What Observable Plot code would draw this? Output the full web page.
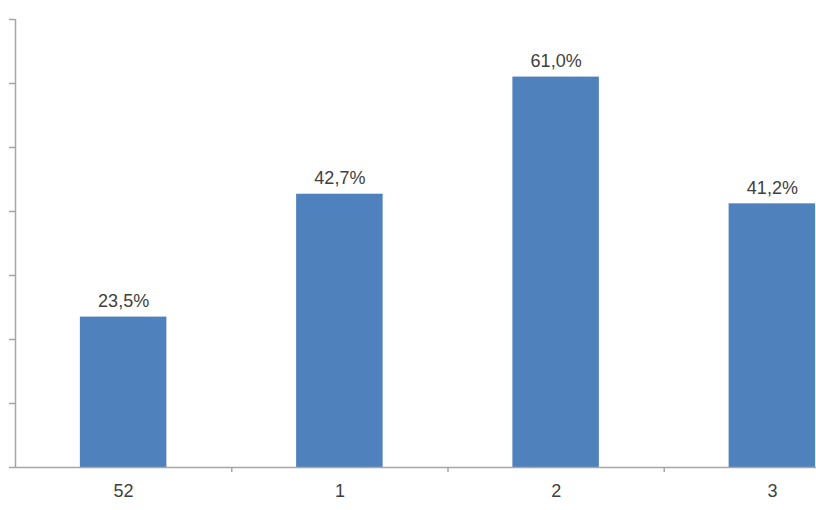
<!DOCTYPE html>
<html>
<head>
<meta charset="utf-8">
<script src="https://cdn.jsdelivr.net/npm/d3@7"></script>
<script src="https://cdn.jsdelivr.net/npm/@observablehq/plot@0.6"></script>
<style>
  html, body { margin: 0; padding: 0; background: #fff; overflow: hidden; }
  #chart svg { display: block; }
</style>
</head>
<body>
<div id="chart"></div>
<script>
const categories = ["52", "1", "2", "3"];
const values = [23.5, 42.7, 61.0, 41.2];
const yTicks = [0, 10, 20, 30, 40, 50, 60, 70];

const data = categories.map((c, i) => ({i, cat: c, value: values[i]}));
const separators = categories.slice(1).map((_, i) => i + 0.5);
const fmt = v => v.toFixed(1).replace(".", ",") + "%";

const axisColor = "#a6a6a6";
const textColor = "#404040";
const font = "Liberation Sans, Arial, sans-serif";

const chart = Plot.plot({
  width: 816,
  height: 510,
  marginLeft: 15,
  marginRight: 0,
  marginTop: 19,
  marginBottom: 43,
  style: {fontFamily: font, background: "#fff"},
  x: {type: "linear", domain: [-0.5, 3.5], range: [15, 880], label: null},
  y: {domain: [0, 70], range: [467, 19], label: null},
  marks: [
    Plot.rectY(data, {x1: d => d.i - 0.2, x2: d => d.i + 0.2, y: "value", fill: "#4F81BD"}),
    Plot.ruleX([-0.5], {y1: 0, y2: 70, stroke: axisColor, strokeWidth: 1.5}),
    Plot.ruleY([0], {x1: -0.5, x2: 3.5, stroke: axisColor, strokeWidth: 1.5}),
    Plot.axisY(yTicks, {anchor: "left", label: null, tickSize: 6, tickFormat: () => "", stroke: axisColor, strokeWidth: 1.5}),
    Plot.axisX(separators, {anchor: "bottom", label: null, tickSize: 5, tickFormat: () => "", stroke: axisColor, strokeWidth: 1.5}),
    Plot.axisX(data.map(d => d.i), {anchor: "bottom", label: null, tickSize: 0, tickPadding: 17, tickFormat: i => categories[i], fontSize: 18, fill: textColor}),
    Plot.text(data, {x: "i", y: "value", text: d => fmt(d.value), lineAnchor: "bottom", dy: -10, fontSize: 18, fill: textColor})
  ]
});
document.getElementById("chart").appendChild(chart);
</script>
</body>
</html>
